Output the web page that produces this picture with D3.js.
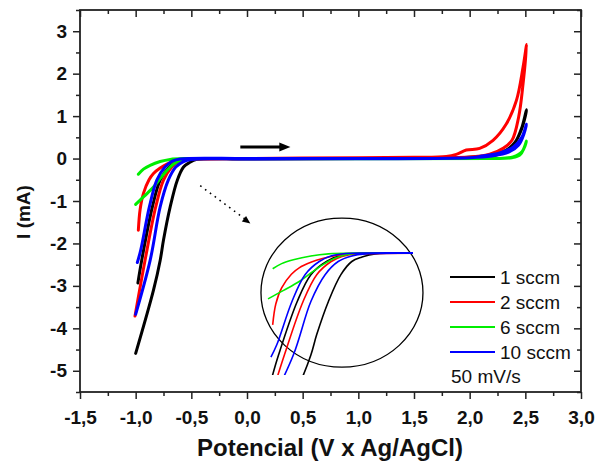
<!DOCTYPE html>
<html><head><meta charset="utf-8">
<script src="https://cdn.jsdelivr.net/npm/d3@7"></script>
<style>
html,body{margin:0;padding:0;background:#fff;}
svg{display:block;font-family:"Liberation Sans",Arial,sans-serif;}
</style></head>
<body>
<svg id="chart" width="597" height="466"></svg>
<script>
// ---- data (potential V vs Ag/AgCl, current mA) ----
const seriesNames = ["1 sccm", "2 sccm", "6 sccm", "10 sccm"];
const seriesColors = ["#000000", "#ff0000", "#00ee00", "#0000ff"];

const potential1 = [-0.98,-0.946,-0.85,-0.78,-0.70,-0.62,-0.5,0,1,1.8,2.1,2.21,2.33,2.41,2.47,2.51,
                    2.50,2.46,2.40,2.32,2.2,2.0,1,0,-0.45,-0.52,-0.57,-0.626,-0.69,-0.75,-0.78,-0.84,-1.0];
const current1   = [-2.93,-2.4,-1.14,-0.51,-0.2,-0.05,-0.01,0,0,0.01,0.05,0.08,0.2,0.39,0.74,1.15,
                    1.0,0.65,0.35,0.17,0.06,0.02,0,-0.01,-0.02,-0.1,-0.2,-0.51,-1.14,-1.92,-2.4,-3.1,-4.59];

const potential2 = [-0.976,-0.96,-0.93,-0.88,-0.84,-0.78,-0.72,-0.65,-0.55,0,1,1.5,1.79,1.88,1.97,2.09,2.21,2.33,2.42,2.48,2.512,
                    2.48,2.44,2.38,2.30,2.18,2.03,1.5,0,-0.55,-0.62,-0.676,-0.75,-0.82,-0.916,-1.006];
const current2   = [-1.69,-1.2,-0.82,-0.5,-0.35,-0.22,-0.13,-0.06,-0.02,0,0.02,0.03,0.05,0.10,0.2,0.24,0.43,0.82,1.37,2.16,2.69,
                    1.77,0.98,0.43,0.24,0.10,0.04,0.01,0,-0.02,-0.08,-0.2,-0.51,-1.14,-2.4,-3.71];

const potential6 = [-0.976,-0.93,-0.87,-0.78,-0.69,-0.55,0,2.0,2.3,2.39,2.47,2.51,
                    2.49,2.45,2.38,2.2,0,-0.55,-0.6,-0.66,-0.72,-0.78,-0.84,-0.92,-1.0];
const current6   = [-0.37,-0.25,-0.16,-0.07,-0.02,0,0,0,0.01,0.04,0.16,0.41,
                    0.25,0.08,0.02,0,0,-0.01,-0.04,-0.13,-0.28,-0.47,-0.67,-0.88,-1.08];

const potential10 = [-0.985,-0.955,-0.877,-0.81,-0.737,-0.67,-0.6,0,1,2.0,2.09,2.27,2.39,2.47,2.51,
                     2.49,2.44,2.35,2.2,2.0,0,-0.5,-0.57,-0.64,-0.707,-0.78,-0.87,-1.0];
const current10   = [-2.45,-2.16,-1.14,-0.51,-0.2,-0.06,-0.01,0,0,0.02,0.05,0.13,0.27,0.51,0.81,
                     0.6,0.32,0.15,0.06,0.02,-0.01,-0.02,-0.07,-0.2,-0.51,-1.14,-2.4,-3.67];

const xMajorTicks = [-1.5,-1.0,-0.5,0.0,0.5,1.0,1.5,2.0,2.5,3.0];
const xMinorTicks = [-1.25,-0.75,-0.25,0.25,0.75,1.25,1.75,2.25,2.75];
const yMajorTicks = [-5,-4,-3,-2,-1,0,1,2,3];
const yMinorTicks = [-5.5,-4.5,-3.5,-2.5,-1.5,-0.5,0.5,1.5,2.5,3.5];

const potentials = [potential1, potential2, potential6, potential10];
const currents = [current1, current2, current6, current10];
const series = seriesNames.map((name, i) => ({
  name, color: seriesColors[i],
  pts: potentials[i].map((e, j) => [e, currents[i][j]])
}));

// ---- layout ----
const svg = d3.select("#chart");
const L = 80, R = 581, T = 10, B = 392;
const x = d3.scaleLinear([-1.5, 3.0], [L, R]);
const y = d3.scaleLinear([-5.5, 3.5], [B, T]);
const fmtX = d => d.toFixed(1).replace(".", ",");
const fmtY = d => String(d);
const axisColor = "#222";

// curves
const line = d3.line().x(d => x(d[0])).y(d => y(d[1])).curve(d3.curveCatmullRom.alpha(0.5));
svg.append("defs").append("clipPath").attr("id", "plotclip")
  .append("rect").attr("x", L).attr("y", T).attr("width", R - L).attr("height", B - T);
const gPlot = svg.append("g").attr("clip-path", "url(#plotclip)");
series.forEach(s => {
  gPlot.append("path").attr("d", line(s.pts)).attr("fill", "none")
    .attr("stroke", s.color).attr("stroke-width", 3).attr("stroke-linejoin", "round").attr("stroke-linecap", "round");
});

// axes
function styleAxis(g) {
  g.select(".domain").remove();
  g.selectAll("line").attr("stroke", axisColor).attr("stroke-width", 1.5);
  g.selectAll("text").attr("fill", "#111").attr("font-weight", "bold").attr("font-size", 19);
}
svg.append("g").attr("transform", `translate(0,${B})`)
  .call(d3.axisBottom(x).tickValues(xMajorTicks).tickFormat(fmtX).tickSize(7).tickPadding(12)).call(styleAxis);
svg.append("g").attr("transform", `translate(0,${B})`)
  .call(d3.axisBottom(x).tickValues(xMinorTicks).tickFormat("").tickSize(4)).call(styleAxis);
svg.append("g").attr("transform", `translate(0,${T})`)
  .call(d3.axisTop(x).tickValues(xMajorTicks).tickFormat("").tickSize(-7)).call(styleAxis);
svg.append("g").attr("transform", `translate(0,${T})`)
  .call(d3.axisTop(x).tickValues(xMinorTicks).tickFormat("").tickSize(-4)).call(styleAxis);
svg.append("g").attr("transform", `translate(${L},0)`)
  .call(d3.axisLeft(y).tickValues(yMajorTicks).tickFormat(fmtY).tickSize(7).tickPadding(6)).call(styleAxis);
svg.append("g").attr("transform", `translate(${L},0)`)
  .call(d3.axisLeft(y).tickValues(yMinorTicks).tickFormat("").tickSize(4)).call(styleAxis);
svg.append("g").attr("transform", `translate(${R},0)`)
  .call(d3.axisRight(y).tickValues(yMajorTicks).tickFormat("").tickSize(-7)).call(styleAxis);
svg.append("g").attr("transform", `translate(${R},0)`)
  .call(d3.axisRight(y).tickValues(yMinorTicks).tickFormat("").tickSize(-4)).call(styleAxis);
svg.append("rect").attr("x", L).attr("y", T).attr("width", R - L).attr("height", B - T)
  .attr("fill", "none").attr("stroke", axisColor).attr("stroke-width", 1.8);

// axis titles
svg.append("text").attr("x", 330).attr("y", 456).attr("text-anchor", "middle")
  .attr("font-size", 24).attr("font-weight", "bold").attr("fill", "#111").text("Potencial (V x Ag/AgCl)");
svg.append("text").attr("transform", "translate(30,212) rotate(-90)").attr("text-anchor", "middle")
  .attr("font-size", 19).attr("font-weight", "bold").attr("fill", "#111").text("I (mA)");

// scan direction arrow
const arrowY = 0.27;
svg.append("line").attr("x1", x(-0.06)).attr("x2", x(0.31)).attr("y1", y(arrowY)).attr("y2", y(arrowY))
  .attr("stroke", "#000").attr("stroke-width", 3);
svg.append("path").attr("d", d3.line()([[x(0.29), y(arrowY) - 4.5], [x(0.39), y(arrowY)], [x(0.29), y(arrowY) + 4.5]]))
  .attr("fill", "#000");

// dotted pointer to inset
const p0 = [x(-0.42), y(-0.64)], p1 = [x(-0.02), y(-1.42)], tip = [x(0.03), y(-1.53)];
svg.append("line").attr("x1", p0[0]).attr("y1", p0[1]).attr("x2", p1[0]).attr("y2", p1[1])
  .attr("stroke", "#000").attr("stroke-width", 1.6).attr("stroke-dasharray", "1.6,4.4");
{
  const ang = Math.atan2(tip[1] - p0[1], tip[0] - p0[0]);
  const back = 8, half = 3.5;
  const bx = tip[0] - back * Math.cos(ang), by = tip[1] - back * Math.sin(ang);
  svg.append("path").attr("d", d3.line()([
    tip, [bx + half * Math.sin(ang), by - half * Math.cos(ang)], [bx - half * Math.sin(ang), by + half * Math.cos(ang)]
  ])).attr("fill", "#000");
}

// inset (magnified view of onset region)
svg.append("ellipse").attr("cx", x(0.853)).attr("cy", y(-3.16)).attr("rx", 81).attr("ry", 74.5)
  .attr("fill", "none").attr("stroke", "#000").attr("stroke-width", 1.3);
const ix = d3.scaleLinear([-1.0, -0.256], [268, 413]);
const iy = d3.scaleLinear([0, -2.87], [253, 375]);
svg.select("defs").append("clipPath").attr("id", "insetclip")
  .append("rect").attr("x", 250).attr("y", 230).attr("width", 413 - 250).attr("height", 375 - 230);
const iline = d3.line().x(d => ix(d[0])).y(d => iy(d[1])).curve(d3.curveCatmullRom.alpha(0.5));
const gInset = svg.append("g").attr("clip-path", "url(#insetclip)");
series.forEach(s => {
  gInset.append("path").attr("d", iline(s.pts)).attr("fill", "none")
    .attr("stroke", s.color).attr("stroke-width", 1.6);
});

// legend
const lg = svg.append("g");
series.forEach((s, i) => {
  const ly = 277 + i * 25;
  lg.append("line").attr("x1", 450).attr("x2", 495).attr("y1", ly).attr("y2", ly)
    .attr("stroke", s.color).attr("stroke-width", 2.2);
  lg.append("text").attr("x", 500).attr("y", ly + 7).attr("font-size", 19).attr("fill", "#111").text(s.name);
});
lg.append("text").attr("x", 451).attr("y", 383).attr("font-size", 19).attr("fill", "#111").text("50 mV/s");
</script>
</body></html>
